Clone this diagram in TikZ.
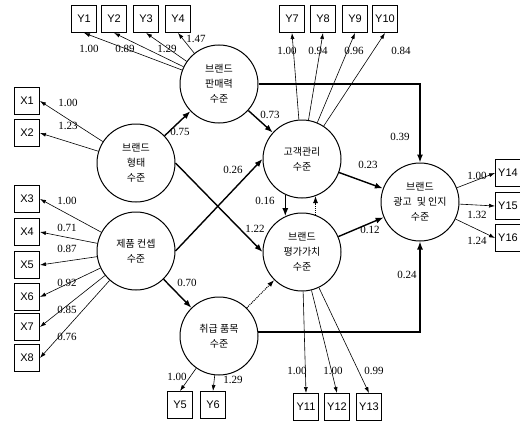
\documentclass[tikz,border=0pt]{standalone}
\usepackage{fontspec}
\setmainfont{Liberation Serif}
\newfontfamily\krfont{Noto Sans CJK KR}
\newfontfamily\boxfont{Liberation Sans}
\usetikzlibrary{arrows.meta}

\tikzset{
  latent/.style={circle, draw, line width=1pt, minimum size=78pt, inner sep=0pt,
    align=center, font=\krfont\fontsize{10}{15}\selectfont},
  obs/.style={draw, line width=0.9pt, minimum width=25pt, minimum height=27pt,
    inner sep=1pt, font=\boxfont\fontsize{11}{12}\selectfont},
  load/.style={-{Latex[length=6pt,width=4pt]}, line width=0.6pt},
  effect/.style={-{Latex[length=8pt,width=6pt]}, line width=1.4pt},
  weakeffect/.style={-{Latex[length=7pt,width=5pt]}, line width=1pt, densely dotted},
  wt/.style={inner sep=0pt, font=\fontsize{11}{12}\selectfont},
}

\begin{document}
\begin{tikzpicture}[x=1pt,y=-1pt]
\useasboundingbox (0,0) rectangle (520,423);

% latent variables
\node[latent] (sales)   at (219,84)  {브랜드\\판매력\\수준};
\node[latent] (form)    at (136,163) {브랜드\\형태\\수준};
\node[latent] (concept) at (136,251) {제품 컨셉\\수준};
\node[latent] (items)   at (219,336) {취급 품목\\수준};
\node[latent] (care)    at (302,159) {고객관리\\수준};
\node[latent] (value)   at (302,252) {브랜드\\평가가치\\수준};
\node[latent] (adv)     at (420,202) {브랜드\\광고\enspace 및 인지\\수준};

% indicators
\foreach \i/\x in {1/84,2/114,3/146,4/178,7/292,8/323,9/355,10/385}
  \node[obs] (Y\i) at (\x,19) {Y\i};
\foreach \i/\y in {1/101,2/133,3/199,4/232,5/265,6/297,7/327,8/358}
  \node[obs] (X\i) at (27,\y) {X\i};
\node[obs] (Y5) at (180,405) {Y5};
\node[obs] (Y6) at (213,405) {Y6};
\foreach \i/\x in {11/306,12/337,13/369}
  \node[obs] (Y\i) at (\x,407) {Y\i};
\foreach \i/\y in {14/173,15/206,16/238}
  \node[obs] (Y\i) at (508,\y) {Y\i};

% loadings
\foreach \i/\v/\lx/\ly in {1/1.00/89/49,2/0.89/125/49,3/1.29/167/49,4/1.47/196/39}{
  \draw[load] (sales) -- (Y\i.south);
  \node[wt] (wY\i) at (\lx,\ly) {\v};
}
\foreach \i/\v/\lx/\ly in {7/1.00/287/51,8/0.94/318/51,9/0.96/354/51,10/0.84/401/51}{
  \draw[load] (care) -- (Y\i.south);
  \node[wt] (wY\i) at (\lx,\ly) {\v};
}
\foreach \i/\v/\ly in {1/1.00/103,2/1.23/126}{
  \draw[load] (form) -- (X\i.east);
  \node[wt] (wX\i) at (68,\ly) {\v};
}
\foreach \i/\v/\ly in {3/1.00/201,4/0.71/228,5/0.87/249,6/0.92/283,7/0.85/310,8/0.76/337}{
  \draw[load] (concept) -- (X\i.east);
  \node[wt] (wX\i) at (67,\ly) {\v};
}
\foreach \i/\v/\lx/\ly in {5/1.00/177/377,6/1.29/233/380}{
  \draw[load] (items) -- (Y\i.north);
  \node[wt] (wY\i) at (\lx,\ly) {\v};
}
\foreach \i/\v/\lx in {11/1.00/297,12/1.00/333,13/0.99/374}{
  \draw[load] (value) -- (Y\i.north);
  \node[wt] (wY\i) at (\lx,371) {\v};
}
\foreach \i/\v/\ly in {14/1.00/176,15/1.32/215,16/1.24/241}{
  \draw[load] (adv) -- (Y\i.west);
  \node[wt] (wY\i) at (477,\ly) {\v};
}

% structural paths
\draw[effect] (form) -- (sales);
\node[wt] (p1) at (180,132) {0.75};
\draw[effect] (sales) -- (care);
\node[wt] (p2) at (270,115) {0.73};
\draw[effect] (concept.east) -- (care.west);
\node[wt] (p3) at (233,170) {0.26};
\draw[effect] (form.east) -- (value.west);
\node[wt] (p4) at (255,229) {1.22};
\draw[effect] (concept) -- (items);
\node[wt] (p5) at (187,283) {0.70};
\draw[weakeffect] (items) -- (value);
\draw[effect] (care.-115) -- (value.115);
\node[wt] (p6) at (265,201) {0.16};
\draw[weakeffect, line width=0.7pt] (value.70) -- (care.-70);
\draw[effect] (care) -- (adv);
\node[wt] (p7) at (368,165) {0.23};
\draw[effect] (value) -- (adv);
\node[wt] (p8) at (370,230) {0.12};
\draw[effect] (sales.east) -| (adv.north);
\node[wt] (p9) at (400,137) {0.39};
\draw[effect] (items.6) -| (adv.south);
\node[wt] (p10) at (407,275) {0.24};

\end{tikzpicture}
\end{document}
